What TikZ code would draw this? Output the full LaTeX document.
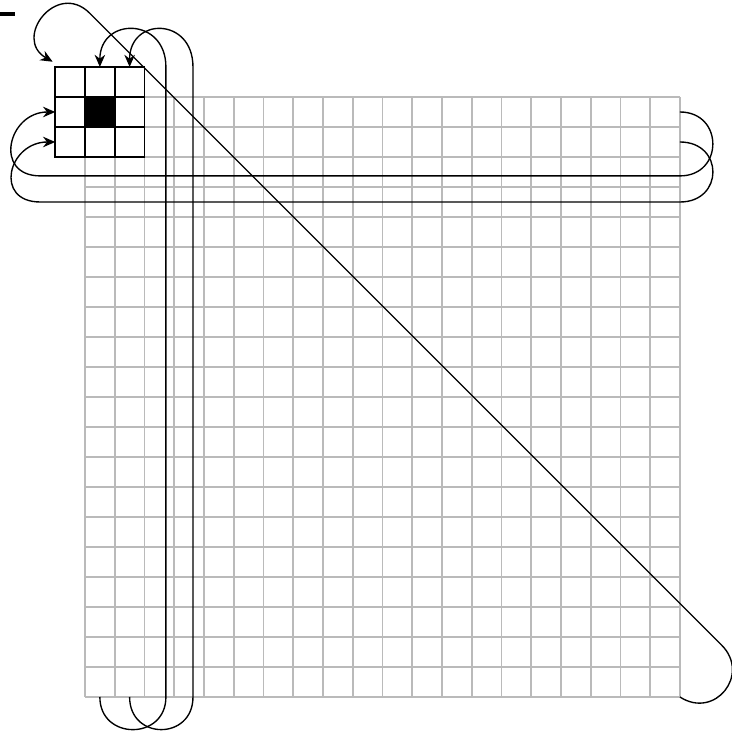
\documentclass[tikz,border=0pt]{standalone}
\usepackage{tikz}
\usetikzlibrary{arrows.meta,positioning}

\begin{document}
\begin{tikzpicture}[
    x=0.4958cm, y=0.5cm,
    gridline/.style={draw=black!27, line width=0.9pt},
    kcell/.style={rectangle, draw=black, line width=0.9pt, fill=white, minimum width=0.4958cm, minimum height=0.5cm, inner sep=0pt, outer sep=0pt},
    wrap/.style={draw=black, line width=0.65pt},
    arrow/.style={wrap, -{Stealth[length=5.8pt, width=5pt]}}
  ]
    \useasboundingbox (-2.857,3.233) rectangle (21.748,-21.167);

    % mark at the top left
    \fill (-2.857,2.833) rectangle (-2.353,2.7);

    % the image
    \draw[gridline, step=1] (0,0) grid (20,-20);

    % the kernel
    \foreach \r in {1,2,3}
      \foreach \c in {1,2,3}
        \node[kcell] (k\r\c) at ({\c-1.5},{1.5-\r}) {};
    \fill (k22.north west) rectangle (k22.south east);

    \coordinate (gse) at (20,-20);
    \coordinate (dlow) at (21.4,-18.27);
    \coordinate (dtop) at (0.157,2.795);
    \coordinate (dtip) at (-1.086,1.175);
    \coordinate (e1) at (20,-0.5);
    \coordinate (e1r) at (20,-2.63);
    \coordinate (e1l) at (-1.5,-2.63);
    \coordinate (e2) at (20,-1.5);
    \coordinate (e2r) at (20,-3.5);
    \coordinate (e2l) at (-1.5,-3.5);
    \coordinate (s1) at (0.5,-20);
    \coordinate (s1r) at (2.72,-20);
    \coordinate (n1r) at (2.72,1);
    \coordinate (s2) at (1.5,-20);
    \coordinate (s2r) at (3.63,-20);
    \coordinate (n2r) at (3.63,1);

    % wrap around
    \draw[arrow] (gse) to[out=-33, in=-45, looseness=1.6] (dlow) -- (dtop) to[out=135, in=150, looseness=1.95] (dtip);
    \draw[arrow] (e1) to[out=0, in=0, looseness=1.76] (e1r) -- (e1l) to[out=180, in=180, looseness=1.85] (k21.west);
    \draw[arrow] (e2) to[out=0, in=0, looseness=1.88] (e2r) -- (e2l) to[out=180, in=180, looseness=1.95] (k31.west);
    \draw[arrow] (s1) to[out=-90, in=-90, looseness=1.69] (s1r) -- (n1r) to[out=90, in=90, looseness=1.95] (k12.north);
    \draw[arrow] (s2) to[out=-90, in=-90, looseness=1.76] (s2r) -- (n2r) to[out=90, in=90, looseness=2.03] (k13.north);
  \end{tikzpicture}
\end{document}
